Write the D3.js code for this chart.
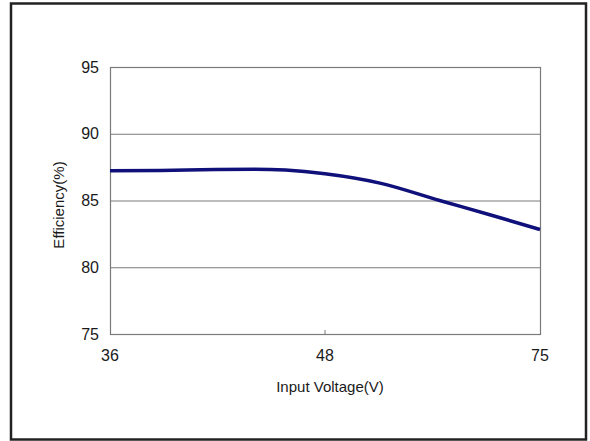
<!DOCTYPE html>
<html><head><meta charset="utf-8">
<script src="https://cdn.jsdelivr.net/npm/d3@7"></script>
<style>html,body{margin:0;padding:0;background:#fff;}svg{display:block;}</style>
</head><body>
<svg id="c" width="590" height="441"></svg>
<script>
const xTicks = [36, 48, 75];
const yTicks = [75, 80, 85, 90, 95];
const voltage = [36, 38.8, 41.9, 44.1, 45.8, 48, 54.9, 62.4, 68.7, 75];
const efficiency = [87.22, 87.25, 87.33, 87.35, 87.28, 87.0, 86.3, 85.0, 83.93, 82.83];

const svg = d3.select("#c");
const L = 110, R = 540, T = 67, B = 334;
const font = "'Liberation Sans', Arial, sans-serif";

svg.append("rect").attr("x", 11).attr("y", 3.5).attr("width", 575).attr("height", 436)
  .attr("fill", "#fff").attr("stroke", "#222").attr("stroke-width", 2.5);

const x = d3.scaleLinear().domain(xTicks).range([L, (L + R) / 2, R]);
const y = d3.scaleLinear().domain([75, 95]).range([B, T]);

svg.append("g").selectAll("line").data(yTicks).join("line")
  .attr("x1", L).attr("x2", R).attr("y1", d => y(d) + 0.5).attr("y2", d => y(d) + 0.5)
  .attr("stroke", "#7a7a7a").attr("stroke-width", 1);
svg.append("rect").attr("x", L + 0.5).attr("y", y(95) + 0.5).attr("width", R - L).attr("height", B - T)
  .attr("fill", "none").attr("stroke", "#7a7a7a").attr("stroke-width", 1.2);
svg.append("line").attr("x1", x(48)).attr("x2", x(48)).attr("y1", B).attr("y2", B - 4)
  .attr("stroke", "#7a7a7a");

svg.append("g").selectAll("text").data(yTicks).join("text")
  .attr("x", 99).attr("y", d => y(d)).attr("dy", "0.35em").attr("text-anchor", "end")
  .attr("font-family", font).attr("font-size", 16).attr("fill", "#1a1a1a").text(d => d);
svg.append("g").selectAll("text").data(xTicks).join("text")
  .attr("x", d => x(d)).attr("y", 355).attr("dy", "0.35em").attr("text-anchor", "middle")
  .attr("font-family", font).attr("font-size", 16).attr("fill", "#1a1a1a").text(d => d);

svg.append("text").attr("x", 330).attr("y", 387).attr("dy", "0.35em").attr("text-anchor", "middle")
  .attr("font-family", font).attr("font-size", 15).attr("fill", "#1a1a1a").text("Input Voltage(V)");
svg.append("text").attr("transform", "translate(59,205) rotate(-90)").attr("dy", "0.35em")
  .attr("text-anchor", "middle").attr("font-family", font).attr("font-size", 15).attr("fill", "#1a1a1a")
  .text("Efficiency(%)");

const data = voltage.map((v, i) => [x(v), y(efficiency[i])]);
svg.append("path").datum(data)
  .attr("d", d3.line().curve(d3.curveMonotoneX))
  .attr("fill", "none").attr("stroke", "#10107a").attr("stroke-width", 3.5);
</script>
</body></html>
